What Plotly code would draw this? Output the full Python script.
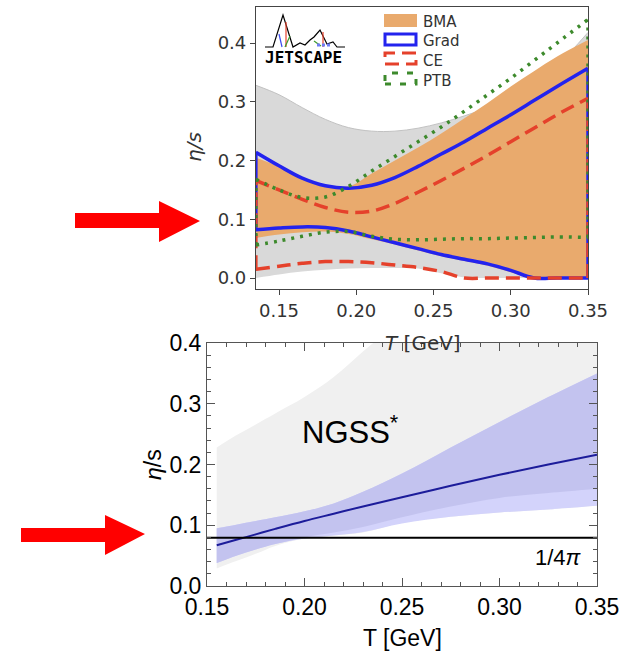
import math
import plotly.graph_objects as go

W, H = 627, 656


def X(px):
    return px / W


def Y(py):
    return 1 - py / H


# ---------------- top panel (JETSCAPE) data ----------------
T_top = [0.135, 0.15, 0.165, 0.18, 0.195, 0.21, 0.225, 0.24, 0.255, 0.27, 0.285, 0.30, 0.315, 0.33, 0.35]
prior_upper = [0.328, 0.312, 0.290, 0.270, 0.256, 0.250, 0.250, 0.255, 0.264, 0.276, 0.290, 0.308, 0.332, 0.362, 0.418]
prior_lower = [0.000, 0.006, 0.011, 0.014, 0.016, 0.017, 0.017, 0.016, 0.008, 0.001, 0.000, 0.000, 0.000, 0.000, 0.000]
bma_upper = [0.205, 0.190, 0.172, 0.158, 0.156, 0.178, 0.200, 0.222, 0.246, 0.272, 0.298, 0.326, 0.352, 0.377, 0.405]
bma_lower = [0.068, 0.074, 0.078, 0.079, 0.075, 0.066, 0.057, 0.047, 0.037, 0.029, 0.021, 0.010, 0.000, 0.000, 0.000]
grad_upper = [0.214, 0.191, 0.170, 0.157, 0.153, 0.158, 0.171, 0.190, 0.211, 0.232, 0.255, 0.278, 0.302, 0.326, 0.357]
grad_lower = [0.082, 0.085, 0.087, 0.086, 0.080, 0.070, 0.060, 0.050, 0.040, 0.032, 0.024, 0.013, 0.000, 0.000, 0.000]
ce_upper = [0.166, 0.150, 0.134, 0.120, 0.112, 0.114, 0.127, 0.146, 0.166, 0.187, 0.209, 0.232, 0.255, 0.278, 0.306]
ce_lower = [0.015, 0.020, 0.025, 0.028, 0.028, 0.026, 0.022, 0.018, 0.011, 0.000, 0.000, 0.000, 0.000, 0.000, 0.000]
ptb_upper = [0.168, 0.150, 0.137, 0.138, 0.156, 0.182, 0.207, 0.232, 0.257, 0.284, 0.312, 0.340, 0.370, 0.400, 0.440]
ptb_lower = [0.056, 0.063, 0.071, 0.078, 0.079, 0.071, 0.066, 0.065, 0.066, 0.067, 0.067, 0.068, 0.069, 0.070, 0.069]
top_xticks = [0.15, 0.20, 0.25, 0.30, 0.35]
top_yticks = [0.0, 0.1, 0.2, 0.3, 0.4]
legend_names = ["BMA", "Grad", "CE", "PTB"]

# ---------------- bottom panel (NGSS) data ----------------
T_bot = [0.155, 0.165, 0.175, 0.185, 0.20, 0.215, 0.23, 0.25, 0.275, 0.30, 0.325, 0.35]
gray_upper = [0.228, 0.248, 0.266, 0.284, 0.311, 0.344, 0.386, 0.440, 0.520, 0.600, 0.680, 0.760]
gray_lower = [0.029, 0.041, 0.053, 0.066, 0.078, 0.083, 0.088, 0.104, 0.114, 0.121, 0.126, 0.132]
blue_upper = [0.095, 0.101, 0.107, 0.113, 0.123, 0.136, 0.155, 0.185, 0.228, 0.270, 0.311, 0.350]
dark_lower = [0.038, 0.050, 0.060, 0.069, 0.080, 0.088, 0.097, 0.113, 0.131, 0.145, 0.153, 0.160]
light_lower = [0.038, 0.050, 0.060, 0.069, 0.078, 0.083, 0.089, 0.103, 0.114, 0.121, 0.126, 0.132]
ngss_median = [0.067, 0.076, 0.085, 0.094, 0.107, 0.119, 0.131, 0.146, 0.165, 0.183, 0.200, 0.216]
kss_x = [0.15, 0.35]
kss_value = 1 / (4 * math.pi)
bot_xticks = [0.15, 0.20, 0.25, 0.30, 0.35]
bot_yticks = [0.0, 0.1, 0.2, 0.3, 0.4]

ORANGE = "#e9aa6d"
BLUE = "#2323ee"
RED = "#e5412b"
GREEN = "#3d8a2c"
GRAYBAND = "#d9d9d9"

fig = go.Figure()


def band(x, lo, hi, color, xa, ya, edge=None):
    fig.add_trace(go.Scatter(x=x, y=lo, mode="lines", line=dict(width=0, shape="spline", color=edge or color),
                             xaxis=xa, yaxis=ya, showlegend=False, hoverinfo="skip"))
    fig.add_trace(go.Scatter(x=x, y=hi, mode="lines", fill="tonexty", fillcolor=color,
                             line=dict(width=1 if edge else 0, shape="spline", color=edge or color),
                             xaxis=xa, yaxis=ya, showlegend=False, hoverinfo="skip"))


def outline(x, lo, hi, color, width, dash):
    ln = dict(color=color, width=width, dash=dash, shape="spline")
    fig.add_trace(go.Scatter(x=x, y=hi, mode="lines", line=ln, xaxis="x", yaxis="y", showlegend=False))
    fig.add_trace(go.Scatter(x=x, y=lo, mode="lines", line=ln, xaxis="x", yaxis="y", showlegend=False))
    ln2 = dict(color=color, width=width, dash=dash)
    for i in (0, -1):
        fig.add_trace(go.Scatter(x=[x[i], x[i]], y=[lo[i], hi[i]], mode="lines", line=ln2,
                                 xaxis="x", yaxis="y", showlegend=False))


# top panel
band(T_top, prior_lower, prior_upper, GRAYBAND, "x", "y", edge="#c2c2c2")
band(T_top, bma_lower, bma_upper, ORANGE, "x", "y")
outline(T_top, grad_lower, grad_upper, BLUE, 3.5, "solid")
outline(T_top, ce_lower, ce_upper, RED, 3.5, "14px,7px")
outline(T_top, ptb_lower, ptb_upper, GREEN, 3.5, "3px,6px")

# bottom panel
band(T_bot, gray_lower, gray_upper, "#f0f0f0", "x2", "y2")
band(T_bot, light_lower, blue_upper, "#d3d3fb", "x2", "y2")
band(T_bot, dark_lower, blue_upper, "#c3c3ef", "x2", "y2")
fig.add_trace(go.Scatter(x=T_bot, y=ngss_median, mode="lines", line=dict(color="#1c1c9a", width=2, shape="spline"),
                         xaxis="x2", yaxis="y2", showlegend=False))
fig.add_trace(go.Scatter(x=kss_x, y=[kss_value, kss_value], mode="lines", line=dict(color="black", width=2),
                         xaxis="x2", yaxis="y2", showlegend=False))

top_axis_common = dict(showline=True, linecolor="#444", linewidth=1.2, mirror=True, ticks="outside",
                       ticklen=5, tickwidth=1.2, tickcolor="#444", showgrid=False, zeroline=False,
                       automargin=False,
                       tickfont=dict(family="DejaVu Sans", size=18, color="#333"))
bot_axis_common = dict(showline=True, linecolor="#555", linewidth=1, mirror="allticks", ticks="inside",
                       ticklen=8, tickwidth=1, tickcolor="#555", showgrid=False, zeroline=False,
                       automargin=False,
                       tickfont=dict(family="Liberation Sans", size=23, color="black"))

fig.update_layout(
    width=W, height=H, margin=dict(l=0, r=0, t=0, b=0, pad=0, autoexpand=False),
    paper_bgcolor="white", plot_bgcolor="rgba(0,0,0,0)", showlegend=False,
    xaxis=dict(domain=[X(256), X(588)], range=[0.1351, 0.35], anchor="y", tickvals=top_xticks,
               tickformat=".2f", **top_axis_common),
    yaxis=dict(domain=[Y(289), Y(7)], range=[-0.0187, 0.4613], anchor="x", tickvals=top_yticks,
               tickformat=".1f", **top_axis_common),
    xaxis2=dict(domain=[X(207), X(597)], range=[0.15, 0.35], anchor="y2", tickvals=bot_xticks,
                tickformat=".2f", minor=dict(dtick=0.01, ticklen=4, ticks="inside", tickcolor="#555"),
                **bot_axis_common),
    yaxis2=dict(domain=[Y(586), Y(343)], range=[0.0, 0.4], anchor="x2", tickvals=bot_yticks,
                tickformat=".1f", minor=dict(dtick=0.02, ticklen=4, ticks="inside", tickcolor="#555"),
                **bot_axis_common),
)

shapes = []
# manual legend handles for the top panel
shapes.append(dict(type="rect", xref="paper", yref="paper", x0=X(384), x1=X(417), y0=Y(27), y1=Y(14),
                   fillcolor=ORANGE, line=dict(width=0)))
shapes.append(dict(type="rect", xref="paper", yref="paper", x0=X(385), x1=X(416), y0=Y(45), y1=Y(34),
                   fillcolor="white", line=dict(color=BLUE, width=3)))
shapes.append(dict(type="rect", xref="paper", yref="paper", x0=X(385), x1=X(416), y0=Y(64), y1=Y(53),
                   fillcolor="white", line=dict(color=RED, width=3, dash="14px,7px")))
shapes.append(dict(type="rect", xref="paper", yref="paper", x0=X(385), x1=X(416), y0=Y(84), y1=Y(73),
                   fillcolor="white", line=dict(color=GREEN, width=3, dash="6px,9px")))


def path(points):
    return "M" + " L".join(f"{X(a):.5f},{Y(b):.5f}" for a, b in points) + " Z"


def openpath(points):
    return "M" + " L".join(f"{X(a):.5f},{Y(b):.5f}" for a, b in points)


# red arrows
shapes.append(dict(type="path", xref="paper", yref="paper", fillcolor="#ff0000", line=dict(width=0),
                   path=path([(75, 213), (159, 213), (159, 201), (200, 221), (159, 242), (159, 228), (75, 228)])))
shapes.append(dict(type="path", xref="paper", yref="paper", fillcolor="#ff0000", line=dict(width=0),
                   path=path([(21, 528), (105, 528), (105, 515), (145, 534), (105, 555), (105, 542), (21, 542)])))

# JETSCAPE logo sketch
shapes.append(dict(type="path", xref="paper", yref="paper", line=dict(color="black", width=1.2),
                   path=openpath([(265, 47), (273, 47), (283, 15), (293, 47), (300, 43), (305, 45), (310, 40),
                                  (314, 37), (320, 30), (327, 44), (333, 42), (337, 47), (345, 47)])))
for (a, b, c, d, col) in [(286, 22, 286, 47, "#e8412b"), (279, 34, 282, 47, "#3b4bf0"), (290, 36, 285, 47, "#3d9a2c"),
                          (323, 32, 323, 47, "#e8412b"), (314, 41, 321, 46, "#3d9a2c")]:
    shapes.append(dict(type="line", xref="paper", yref="paper", x0=X(a), y0=Y(b), x1=X(c), y1=Y(d),
                       line=dict(color=col, width=1.2)))
shapes.append(dict(type="line", xref="paper", yref="paper", x0=X(317), y0=Y(45), x1=X(330), y1=Y(45),
                   line=dict(color="#6f7cf5", width=3, dash="3px,2px")))
fig.update_layout(shapes=shapes)

ann = []


def add_text(text, px, py, font, angle=0, xanchor="center"):
    ann.append(dict(text=text, x=X(px), y=Y(py), xref="paper", yref="paper", xanchor=xanchor, yanchor="middle",
                    showarrow=False, textangle=angle, font=font))


txt = dict(family="DejaVu Sans", size=15, color="#333")
for name, yy in zip(legend_names, [22, 41, 61, 81]):
    add_text(name, 421, yy, txt, xanchor="left")
add_text("<b>JETSCAPE</b>", 303, 57, dict(family="DejaVu Sans Mono", size=16, color="black"))
add_text("<i>η/s</i>", 194, 147, dict(family="DejaVu Sans", size=20, color="#333"), angle=-90)
add_text("<i>T</i> [GeV]", 423, 343, dict(family="DejaVu Sans", size=20, color="#333"))
add_text("<i>η</i>/s", 153, 465, dict(family="Liberation Sans", size=23, color="black"), angle=-90)
add_text("T [GeV]", 402, 638, dict(family="Liberation Sans", size=23, color="black"))
add_text("NGSS<sup>*</sup>", 350, 430, dict(family="Liberation Sans", size=31, color="black"))
add_text("1/4<i>π</i>", 558, 557, dict(family="Liberation Sans", size=22, color="black"))
fig.update_layout(annotations=ann)

fig.write_html("out.html")
